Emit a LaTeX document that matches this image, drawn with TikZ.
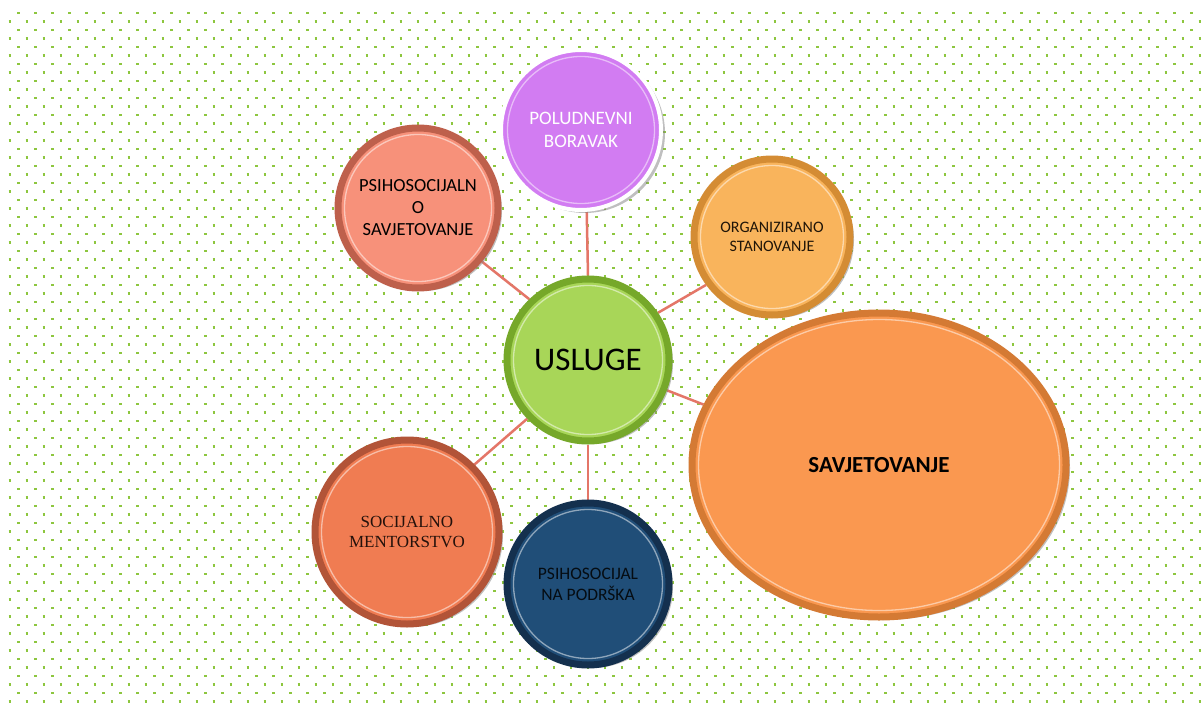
\documentclass[tikz,border=0pt]{standalone}
\usepackage{fontspec}
\setmainfont{Carlito}
\newfontfamily\timesfont{Liberation Serif}
\usetikzlibrary{shapes.geometric}
\usetikzlibrary{shadows}
\pgfdeclarelayer{background}
\pgfsetlayers{background,main}
\definecolor{dotgreen}{RGB}{141,198,63}
\definecolor{linkred}{RGB}{228,118,104}
\definecolor{uslgfill}{RGB}{168,214,88}
\definecolor{uslgring}{RGB}{118,168,42}
\definecolor{polfill}{RGB}{210,124,242}
\definecolor{psihfill}{RGB}{247,145,122}
\definecolor{psihring}{RGB}{190,96,76}
\definecolor{orgfill}{RGB}{249,180,92}
\definecolor{orgring}{RGB}{212,140,52}
\definecolor{savfill}{RGB}{250,152,80}
\definecolor{savring}{RGB}{212,122,52}
\definecolor{socfill}{RGB}{240,124,82}
\definecolor{socring}{RGB}{178,84,56}
\definecolor{podfill}{RGB}{32,78,120}
\definecolor{podring}{RGB}{20,48,78}
\tikzset{
	disc/.style n args={3}{circle, minimum size=#3pt, inner sep=0pt, align=center,
		fill=#1, draw=#2, line width=7pt,
		drop shadow={shadow xshift=4pt, shadow yshift=-3pt, opacity=0.5},
		path picture={\draw[white, opacity=0.5, line width=1.3pt]
			(path picture bounding box.center) circle ({(#3/2-6.5)*1pt});}},
	oval/.style n args={4}{ellipse, minimum width=#3pt, minimum height=#4pt, inner sep=0pt, align=center,
		fill=#1, draw=#2, line width=7pt,
		drop shadow={shadow xshift=4pt, shadow yshift=-3pt, opacity=0.5},
		path picture={\draw[white, opacity=0.5, line width=1.3pt]
			(path picture bounding box.center) ellipse [x radius={(#3/2-6.5)*1pt}, y radius={(#4/2-6.5)*1pt}];}},
	link/.style={draw=linkred, line width=2.5pt},
	dots/.style={draw=dotgreen, line width=2.5pt, dash pattern=on 2.5pt off 14.5pt},
}

\begin{document}
\begin{tikzpicture}[x=1pt, y=-1pt]
	\useasboundingbox (0,0) rectangle (1201,709);
	\begin{pgfonlayer}{background}
		\fill [white] (0,0) rectangle (1201,709);
		\foreach \r in {0,...,40} {
			\draw [dots] (17.1, {12.8+17*\r}) -- (1201, {12.8+17*\r});
			\draw [dots] (8.5, {21.3+17*\r}) -- (1201, {21.3+17*\r});
		}
	\end{pgfonlayer}
	\node [disc={uslgfill}{uslgring}{162}, font=\fontsize{33}{38}\selectfont] (0) at (588, 360) {USLUGE};
	\node [disc={polfill}{white}{160}, line width=4pt, text=white, font=\fontsize{19}{23}\selectfont] (1) at (581, 130) {POLUDNEVNI\\BORAVAK};
	\node [disc={psihfill}{psihring}{160}, font=\fontsize{18.5}{22}\selectfont] (2) at (418, 208) {PSIHOSOCIJALN\\O\\SAVJETOVANJE};
	\node [disc={orgfill}{orgring}{156}, text={black!85!orgring}, font=\fontsize{16}{19}\selectfont] (3) at (772, 237) {ORGANIZIRANO\\STANOVANJE};
	\node [oval={savfill}{savring}{374}{304}, font=\bfseries\fontsize{23}{27}\selectfont] (4) at (879, 465) {SAVJETOVANJE};
	\node [disc={socfill}{socring}{184}, text={black!80!socring}, font=\timesfont\fontsize{17}{19.5}\selectfont] (5) at (407, 532) {SOCIJALNO\\MENTORSTVO};
	\node [disc={podfill}{podring}{162}, text={black!85!podfill}, font=\fontsize{17.5}{21}\selectfont] (6) at (588, 584) {PSIHOSOCIJAL\\NA PODRŠKA};
	\begin{pgfonlayer}{background}
		\draw [link] (0.134) to (2.-40);
		\draw [link] (0.north) to (1.-86);
		\draw [link] (0.34) to (3.216);
		\draw [link] (0.-21) to (4.161);
		\draw [link] (0.224) to (5.45);
		\draw [link] (0.south) to (6.north);
	\end{pgfonlayer}
\end{tikzpicture}
\end{document}
